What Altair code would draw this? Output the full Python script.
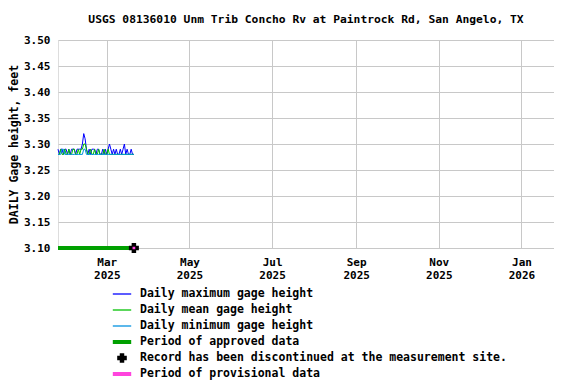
import altair as alt
import pandas as pd

FONT = "DejaVu Sans Mono"

# Daily values, 2025-01-24 .. 2025-03-21
start_date = "2025-01-24"
max_vals = [3.29, 3.28, 3.29, 3.29, 3.28, 3.29, 3.29, 3.28, 3.29, 3.28,
            3.29, 3.29, 3.29, 3.28, 3.29, 3.29, 3.29, 3.29, 3.30, 3.32,
            3.31, 3.29, 3.28, 3.29, 3.28, 3.29, 3.29, 3.29, 3.28, 3.29,
            3.29, 3.28, 3.28, 3.29, 3.28, 3.29, 3.28, 3.29, 3.30, 3.29,
            3.28, 3.29, 3.28, 3.29, 3.28, 3.28, 3.29, 3.28, 3.29, 3.30,
            3.28, 3.29, 3.28, 3.28, 3.29, 3.28, 3.28]
mean_vals = [3.28, 3.28, 3.29, 3.28, 3.28, 3.29, 3.28, 3.28, 3.29, 3.28,
             3.28, 3.29, 3.29, 3.28, 3.28, 3.29, 3.28, 3.29, 3.29, 3.30,
             3.30, 3.29, 3.28, 3.28, 3.29, 3.28, 3.28, 3.29, 3.28, 3.28,
             3.29, 3.28, 3.28, 3.28, 3.29, 3.28, 3.28, 3.29, 3.28, 3.28,
             3.28, 3.28, 3.28, 3.28, 3.28, 3.28, 3.28, 3.28, 3.28, 3.28,
             3.28, 3.28, 3.28, 3.28, 3.28, 3.28, 3.28]
min_vals = [3.28, 3.28, 3.28, 3.29, 3.29, 3.28, 3.28, 3.28, 3.28, 3.28,
            3.28, 3.28, 3.28, 3.28, 3.28, 3.28, 3.28, 3.28, 3.28, 3.29,
            3.29, 3.28, 3.28, 3.28, 3.28, 3.28, 3.28, 3.28, 3.28, 3.28,
            3.28, 3.28, 3.28, 3.28, 3.28, 3.28, 3.28, 3.28, 3.28, 3.28,
            3.28, 3.28, 3.28, 3.28, 3.28, 3.28, 3.28, 3.28, 3.28, 3.28,
            3.28, 3.28, 3.28, 3.28, 3.28, 3.28, 3.28]

legend_labels = [
    "Daily maximum gage height",
    "Daily mean gage height",
    "Daily minimum gage height",
    "Period of approved data",
    "Record has been discontinued at the measurement site.",
    "Period of provisional data",
]
legend_colors = ["#0000ff", "#00c000", "#0090e0", "#00a000", "#000000", "#ff44dd"]

approved_period = ["2025-01-24", "2025-03-20"]
provisional_period = ["2025-03-20T00:00:00", "2025-03-22T00:00:00"]
discontinued_date = "2025-03-21"
y_floor = 3.10

x_ticks = [(2025, 3), (2025, 5), (2025, 7), (2025, 9), (2025, 11), (2026, 1)]
y_ticks = [3.10, 3.15, 3.20, 3.25, 3.30, 3.35, 3.40, 3.45, 3.50]

dates = pd.date_range(start_date, periods=len(max_vals), freq="D").strftime("%Y-%m-%d")
series_df = pd.concat([
    pd.DataFrame({"date": dates, "value": max_vals, "series": legend_labels[0]}),
    pd.DataFrame({"date": dates, "value": mean_vals, "series": legend_labels[1]}),
    pd.DataFrame({"date": dates, "value": min_vals, "series": legend_labels[2]}),
])

approved_df = pd.DataFrame({"date": [approved_period[0]], "end": [approved_period[1]],
                            "value": [y_floor], "series": [legend_labels[3]]})
prov_df = pd.DataFrame({"date": [provisional_period[0]], "end": [provisional_period[1]],
                        "value": [y_floor], "series": [legend_labels[5]]})
disc_df = pd.DataFrame({"date": [discontinued_date], "value": [y_floor], "series": [legend_labels[4]]})

CROSS = "M-0.45,-1H0.45V-0.45H1V0.45H0.45V1H-0.45V0.45H-1V-0.45H-0.45Z"
LEG_LINE = "M-1.15,-0.08H1.15V0.08H-1.15Z"
LEG_BAR = "M-1.15,-0.25H1.15V0.25H-1.15Z"
LEG_CROSS = "M-0.28,-0.6H0.28V-0.28H0.6V0.28H0.28V0.6H-0.28V0.28H-0.6V-0.28H-0.28Z"

shape_expr = (
    "indexof(['" + legend_labels[3] + "','" + legend_labels[5] + "'], datum.value) >= 0 ? '" + LEG_BAR + "' : "
    "datum.value === '" + legend_labels[4] + "' ? '" + LEG_CROSS + "' : '" + LEG_LINE + "'"
)

x_scale = alt.Scale(type="utc", domain=[alt.DateTime(year=2025, month=1, date=24, utc=True),
                                        alt.DateTime(year=2026, month=1, date=25, utc=True)])
y_scale = alt.Scale(domain=[3.10, 3.50], nice=False, zero=False)

color = alt.Color(
    "series:N",
    scale=alt.Scale(domain=legend_labels, range=legend_colors),
    legend=alt.Legend(
        title=None, orient="none", legendX=56, legendY=246,
        labelFont=FONT, labelFontSize=11.5, labelFontWeight="bold", labelColor="black",
        labelLimit=600, labelOffset=10, symbolSize=256, rowPadding=2, padding=0,
        symbolStrokeWidth=0, symbolOpacity=1,
        symbolType=alt.ExprRef(expr=shape_expr),
        symbolFillColor=alt.ExprRef(expr="scale('color', datum.value)"),
    ),
)

x_axis = alt.Axis(
    values=[alt.DateTime(year=y, month=m, date=1, utc=True) for y, m in x_ticks],
    labelExpr="[utcFormat(datum.value, '%b'), utcFormat(datum.value, '%Y')]",
    title=None, ticks=False, labelPadding=8, labelLineHeight=13, labelOverlap=False,
    labelFont=FONT, labelFontSize=11, labelFontWeight="bold", labelColor="black",
    gridColor="#c8c8c8", domain=False,
)
y_axis = alt.Axis(
    values=y_ticks, format=".2f", title="DAILY Gage height, feet",
    ticks=False, labelPadding=8, titlePadding=4, labelOverlap=False,
    labelFont=FONT, labelFontSize=11, labelFontWeight="bold", labelColor="black",
    titleFont=FONT, titleFontSize=11.5, titleFontWeight="bold", titleColor="black",
    gridColor="#c8c8c8", domain=False,
)

X = alt.X("date:T", scale=x_scale, axis=x_axis)
Y = alt.Y("value:Q", scale=y_scale, axis=y_axis)

base = alt.Chart(series_df)
layers = []
for lab in legend_labels[:3]:
    layers.append(
        base.transform_filter(alt.datum.series == lab).mark_line(strokeWidth=1).encode(
            x=X, y=Y, color=color,
        )
    )

approved = alt.Chart(approved_df).mark_rule(strokeWidth=4).encode(
    x=X, x2="end:T", y=Y, color=color)
disc = alt.Chart(disc_df).mark_point(filled=True, shape=CROSS, size=100, opacity=1).encode(
    x=X, y=Y, color=color)
prov = alt.Chart(prov_df).mark_rule(strokeWidth=2.5).encode(
    x=X, x2="end:T", y=Y, color=color)

chart = alt.layer(*layers, approved, disc, prov).properties(
    width=496, height=208,
    title=alt.TitleParams(
        "USGS 08136010 Unm Trib Concho Rv at Paintrock Rd, San Angelo, TX",
        font=FONT, fontSize=11.3, fontWeight="bold", color="black",
        anchor="middle", frame="group", offset=9,
    ),
    padding={"top": 5, "left": 0, "right": 0, "bottom": 0},
).configure_view(stroke="black", strokeWidth=1).configure(background="white")

chart.save("out.html", embed_options={"renderer": "svg", "actions": False})
